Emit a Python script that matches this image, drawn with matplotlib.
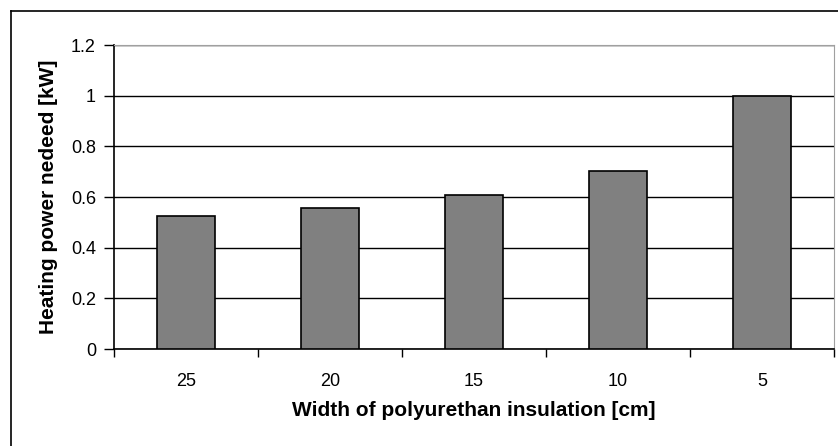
import matplotlib
matplotlib.use('Agg')
import matplotlib.pyplot as plt
from matplotlib.lines import Line2D

widths = ['25', '20', '15', '10', '5']
power = [0.525, 0.557, 0.606, 0.703, 1.0]
yticks = [0, 0.2, 0.4, 0.6, 0.8, 1, 1.2]
ytick_labels = ['0', '0.2', '0.4', '0.6', '0.8', '1', '1.2']

plt.rcParams['font.family'] = ['Liberation Sans', 'DejaVu Sans']

W, H = 838, 446
fig = plt.figure(figsize=(W / 100, H / 100), dpi=100)
ax = fig.add_axes([114 / W, (H - 349) / H, 720 / W, 304 / H])

x = list(range(len(widths)))
ax.bar(x, power, width=0.4, color='#808080', edgecolor='black', linewidth=1.2, zorder=3)

ax.set_xlim(-0.5, len(widths) - 0.5)
ax.set_ylim(0, 1.2)
ax.set_yticks(yticks)
ax.set_yticklabels(ytick_labels, fontsize=13)
ax.yaxis.grid(True, color='black', linewidth=1, zorder=0)
ax.set_axisbelow(True)

# category labels centred, tick marks between categories
ax.set_xticks([i - 0.5 for i in range(len(widths) + 1)])
ax.set_xticklabels([])
ax.set_xticks(x, minor=True)
ax.set_xticklabels(widths, minor=True, fontsize=13)
ax.tick_params(axis='x', which='minor', length=0, pad=17)
ax.tick_params(axis='x', which='major', length=6, direction='out', width=1)
ax.tick_params(axis='y', length=7, direction='out', width=1, pad=6)

ax.spines['top'].set_color('#a0a0a0')
ax.spines['right'].set_color('#a0a0a0')
ax.spines['left'].set_linewidth(1.2)
ax.spines['bottom'].set_linewidth(1.2)

ax.set_xlabel('Width of polyurethan insulation [cm]', fontsize=15, fontweight='bold', labelpad=8)
ax.set_ylabel('Heating power nedeed [kW]', fontsize=15, fontweight='bold', labelpad=9)

# outer chart border (left and top edges visible)
fig.add_artist(Line2D([11 / W, 11 / W], [0, 1 - 11 / H], color='black', linewidth=1.2, transform=fig.transFigure))
fig.add_artist(Line2D([11 / W, 1], [1 - 11 / H, 1 - 11 / H], color='black', linewidth=1.2, transform=fig.transFigure))

fig.savefig('out.png', dpi=100)
